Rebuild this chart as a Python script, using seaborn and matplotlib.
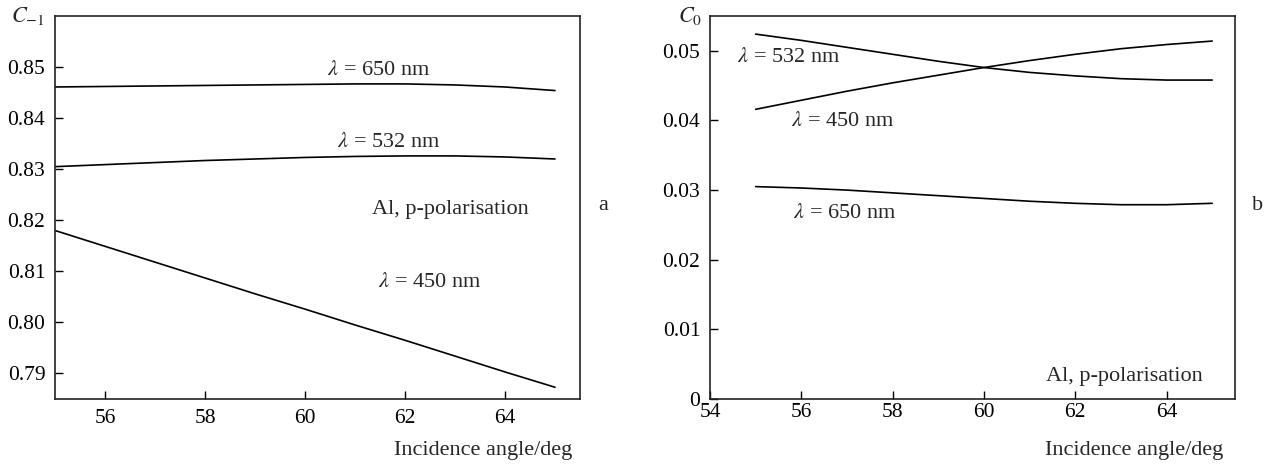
import matplotlib
matplotlib.use("Agg")
import matplotlib.pyplot as plt
import seaborn as sns
import pandas as pd

angles = [55, 56, 57, 58, 59, 60, 61, 62, 63, 64, 65]

# Panel a: C_-1
c_m1_650 = [0.8461, 0.8462, 0.8463, 0.8464, 0.8465, 0.8466, 0.8467, 0.8467, 0.8465, 0.8461, 0.8454]
c_m1_532 = [0.8305, 0.8309, 0.8313, 0.8317, 0.8320, 0.8323, 0.8325, 0.8326, 0.8326, 0.8324, 0.8320]
c_m1_450 = [0.8180, 0.8149, 0.8118, 0.8087, 0.8056, 0.8026, 0.7995, 0.7965, 0.7934, 0.7903, 0.7873]

# Panel b: C_0
c0_532 = [0.0524, 0.0515, 0.0505, 0.0495, 0.0485, 0.0476, 0.0469, 0.0464, 0.0460, 0.0458, 0.0458]
c0_450 = [0.0416, 0.0429, 0.0442, 0.0454, 0.0465, 0.0476, 0.0486, 0.0495, 0.0503, 0.0509, 0.0514]
c0_650 = [0.0305, 0.0303, 0.0300, 0.0296, 0.0292, 0.0288, 0.0284, 0.0281, 0.0279, 0.0279, 0.0281]

xticks_a = [56, 58, 60, 62, 64]
yticks_a = [0.79, 0.80, 0.81, 0.82, 0.83, 0.84, 0.85]
xticks_b = [54, 56, 58, 60, 62, 64]
yticks_b = [0, 0.01, 0.02, 0.03, 0.04, 0.05]
yticklabels_b = ["0", "0.01", "0.02", "0.03", "0.04", "0.05"]

sns.set_theme(style="ticks")
plt.rcParams["font.family"] = ["Liberation Serif", "DejaVu Serif"]
plt.rcParams["mathtext.fontset"] = "stix"
plt.rcParams["axes.linewidth"] = 1.2
plt.rcParams["xtick.direction"] = "in"
plt.rcParams["ytick.direction"] = "in"

FT = 15.5   # tick labels
FS = 16     # annotations

fig = plt.figure(figsize=(12.7, 4.66), dpi=100)
axa = fig.add_axes([55/1270, 1-399/466, 525/1270, 383/466])
axb = fig.add_axes([710/1270, 1-399/466, 525/1270, 383/466])

def draw(ax, series):
    for vals in series:
        df = pd.DataFrame({"x": angles, "y": vals})
        sns.lineplot(data=df, x="x", y="y", ax=ax, color="black", linewidth=1.2)
    ax.set_xlabel("")
    ax.set_ylabel("")
    ax.tick_params(axis="both", labelsize=FT, length=6, width=1.0, colors="black", pad=7)
    for s in ax.spines.values():
        s.set_visible(True)
        s.set_color("#222222")

draw(axa, [c_m1_650, c_m1_532, c_m1_450])
axa.set_xlim(55, 65.5)
axa.set_ylim(0.785, 0.86)
axa.set_xticks(xticks_a)
axa.set_xticklabels([str(t) for t in xticks_a])
axa.set_yticks(yticks_a)
axa.set_yticklabels([f"{t:.2f}" for t in yticks_a])

axa.text(61.47, 0.8494, r"$\lambda$ = 650 nm", fontsize=FS, ha="center", va="center")
axa.text(61.67, 0.8352, r"$\lambda$ = 532 nm", fontsize=FS, ha="center", va="center")
axa.text(62.9, 0.8222, "Al, p-polarisation", fontsize=FS, ha="center", va="center")
axa.text(62.5, 0.8079, r"$\lambda$ = 450 nm", fontsize=FS, ha="center", va="center")
axa.text(-0.02, 1.0, r"$C_{-1}$", transform=axa.transAxes, fontsize=FS, ha="right", va="center")
axa.text(0.985, -0.11, "Incidence angle/deg", transform=axa.transAxes, fontsize=FS, ha="right", va="top")
fig.text(603/1270, 1-205/466, "a", fontsize=FS, ha="center", va="center")

draw(axb, [c0_532, c0_450, c0_650])
axb.set_xlim(54, 65.5)
axb.set_ylim(0, 0.055)
axb.set_xticks(xticks_b)
axb.set_xticklabels([str(t) for t in xticks_b])
axb.set_yticks(yticks_b)
axb.set_yticklabels(yticklabels_b)
axb.tick_params(axis="x", pad=3)

axb.text(55.73, 0.0490, r"$\lambda$ = 532 nm", fontsize=FS, ha="center", va="center")
axb.text(56.9, 0.0399, r"$\lambda$ = 450 nm", fontsize=FS, ha="center", va="center")
axb.text(56.95, 0.0267, r"$\lambda$ = 650 nm", fontsize=FS, ha="center", va="center")
axb.text(63.08, 0.0032, "Al, p-polarisation", fontsize=FS, ha="center", va="center")
axb.text(-0.015, 1.0, r"$C_0$", transform=axb.transAxes, fontsize=FS, ha="right", va="center")
axb.text(0.977, -0.11, "Incidence angle/deg", transform=axb.transAxes, fontsize=FS, ha="right", va="top")
fig.text(1258/1270, 1-205/466, "b", fontsize=FS, ha="center", va="center")

fig.savefig("out.png", dpi=100, facecolor="white")
